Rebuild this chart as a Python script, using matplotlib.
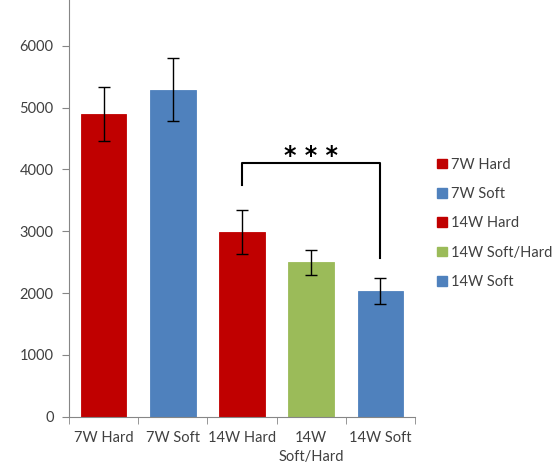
import matplotlib.pyplot as plt
from matplotlib.patches import Patch

plt.rcParams['font.family'] = ['Lato', 'DejaVu Sans']

groups = ["7W Hard", "7W Soft", "14W Hard", "14W Soft/Hard", "14W Soft"]
tick_labels = ["7W Hard", "7W Soft", "14W Hard", "14W\nSoft/Hard", "14W Soft"]
means = [4895, 5290, 2985, 2500, 2030]
errors = [435, 510, 360, 200, 210]
colors = ["#C00000", "#4F81BD", "#C00000", "#9BBB59", "#4F81BD"]

fig = plt.figure(figsize=(5.59, 4.69), dpi=100)
ax = fig.add_axes([0.1234, 0.1115, 0.619, 0.8885])

x = range(len(groups))
ax.bar(x, means, width=0.66, color=colors, edgecolor=colors, linewidth=0.6)
ax.errorbar(x, means, yerr=errors, fmt='none', ecolor='black',
            elinewidth=1, capsize=4, capthick=1)

ax.set_xlim(-0.5, 4.5)
ax.set_ylim(0, 6740)
ax.set_yticks(range(0, 7000, 1000))
ax.set_xticks(list(x))
ax.set_xticklabels(tick_labels, linespacing=1.45)
ax.set_xticks([i - 0.5 for i in range(6)], minor=True)
ax.tick_params(axis='x', which='major', length=0, pad=10, labelsize=10.5, labelcolor='#404040')
ax.tick_params(axis='x', which='minor', length=5, color='#868686', direction='out')
ax.tick_params(axis='y', length=5, color='#868686', labelsize=10.5, labelcolor='#404040', pad=6)
for s in ['top', 'right']:
    ax.spines[s].set_visible(False)
for s in ['left', 'bottom']:
    ax.spines[s].set_color('#868686')

# significance bracket between 14W Hard and 14W Soft
ax.plot([2, 2, 4, 4], [3750, 4105, 4105, 2575], color='black', lw=1.5, clip_on=False)
ax.text(3.0, 4100, "* * *", ha='center', va='baseline', fontsize=17, fontweight='bold',
        family='DejaVu Sans')

handles = [Patch(facecolor=c, edgecolor=c) for c in colors]
fig.legend(handles, groups, loc='center left', bbox_to_anchor=(0.759, 0.524),
           frameon=False, fontsize=10.5, handlelength=0.65, handleheight=0.65,
           handletextpad=0.3, labelspacing=1.05, labelcolor='#404040')

fig.savefig('out.png', dpi=100)
